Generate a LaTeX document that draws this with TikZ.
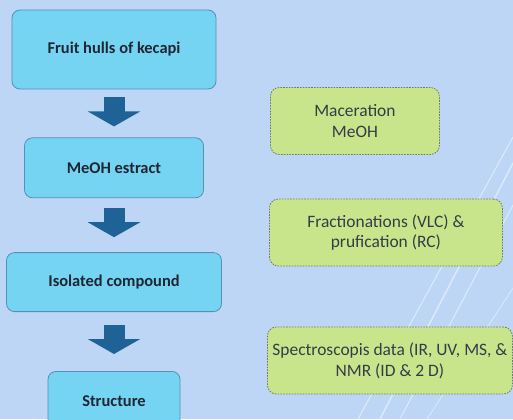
\documentclass[tikz,border=0pt]{standalone}
\usepackage{fontspec}
\setmainfont{Carlito}
\usepackage{tikz}
\usetikzlibrary{arrows.meta,positioning}
\definecolor{fondo}{rgb}{0.74, 0.84, 0.96}
\definecolor{celeste}{rgb}{0.46, 0.83, 0.95}
\definecolor{bordeazul}{rgb}{0.35, 0.56, 0.69}
\definecolor{azulflecha}{rgb}{0.12, 0.39, 0.59}
\definecolor{pistacho}{rgb}{0.79, 0.90, 0.55}
\definecolor{bordeverde}{rgb}{0.42, 0.49, 0.40}
\definecolor{tinta}{rgb}{0.12, 0.15, 0.20}
\tikzset{
  etapa/.style={
    rounded corners=8bp,
    draw=bordeazul,
    line width=0.8bp,
    fill=celeste,
    align=center,
    inner sep=0pt,
    text=tinta,
    font=\fontsize{16.5}{20}\selectfont\bfseries
  },
  nota/.style={
    rounded corners=9bp,
    draw=bordeverde,
    line width=0.8bp,
    dash pattern=on 1.6bp off 1.2bp,
    fill=pistacho,
    align=center,
    inner sep=0pt,
    anchor=west,
    minimum height=67bp,
    text=tinta!90,
    font=\fontsize{17.5}{21}\selectfont
  },
  flecha/.style={
    -{Triangle[length=15bp, width=52bp]},
    line width=21bp,
    azulflecha
  },
  raya/.style={
    white,
    opacity=.5,
    line width=1bp
  }
}

\begin{document}
\begin{tikzpicture}[x=1bp, y=1bp]
\clip (0,0) rectangle (513,419);
\fill[fondo] (0,0) rectangle (513,419);

% rayas del fondo
\draw[raya] (513,282) -- (358,0);
\draw[raya, line width=1.4bp] (513,256) -- (380,0);
\draw[raya] (513,214) -- (400,0);
\draw[raya, opacity=.4] (513,131) -- (427,0);

% columna de etapas
\node[etapa, minimum width=204bp, minimum height=79bp] (frutos) at (114,369.5) {Fruit hulls of kecapi};
\node[etapa, minimum width=179bp, minimum height=60bp, below=48bp of frutos] (extracto) {MeOH estract};
\node[etapa, minimum width=215bp, minimum height=59bp, below=54bp of extracto] (aislado) {Isolated compound};
\node[etapa, minimum width=132bp, minimum height=60bp, below=59bp of aislado] (estructura) {Structure};

\draw[flecha, shorten <=8bp, shorten >=11bp] (frutos) -- (extracto);
\draw[flecha, shorten <=10bp, shorten >=15bp] (extracto) -- (aislado);
\draw[flecha, shorten <=13bp, shorten >=17bp] (aislado) -- (estructura);

% notas de cada paso
\node[nota, minimum width=169bp] (maceracion) at (270,298) {Maceration\\MeOH};
\node[nota, minimum width=233bp] (fraccion) at (269,186.5) {Fractionations (VLC) \&\\prufication (RC)};
\node[nota, minimum width=245bp] (espectros) at (267,58.5) {Spectroscopis data (IR, UV, MS, \&\\NMR (ID \& 2 D)};
\end{tikzpicture}
\end{document}
